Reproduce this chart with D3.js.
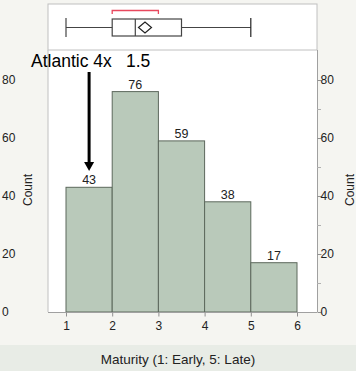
<!DOCTYPE html>
<html><head><meta charset="utf-8">
<script src="https://cdn.jsdelivr.net/npm/d3@7"></script>
<style>body{margin:0;background:#f5f5f1;}svg{display:block;font-family:Arial,"Liberation Sans",sans-serif;}</style>
</head><body><svg id="c" width="356" height="371"></svg>
<script>
const binStarts = [1, 2, 3, 4, 5];
const counts = [43, 76, 59, 38, 17];
const yTicks = [0, 20, 40, 60, 80];
const xTicks = [1, 2, 3, 4, 5, 6];
const boxStats = {min: 1, q1: 2, median: 2.5, mean: 2.71, q3: 3.5, max: 5, shortLo: 2, shortHi: 3};
const annotationLabel = "Atlantic 4x";
const annotationValue = 1.5;
const xLabel = "Maturity (1: Early, 5: Late)";
const yLabel = "Count";

const svg = d3.select("#c");
const L = 48, R = 317, T = 4, boxB = 50, B = 312;
const x = d3.scaleLinear().domain([1, 6]).range([66, 297]);
const y = d3.scaleLinear().domain([0, 80]).range([B, 80]);

svg.append("rect").attr("x", 0).attr("y", 345).attr("width", 356).attr("height", 26).attr("fill", "#e8ece6");
svg.append("rect").attr("x", L).attr("y", T).attr("width", R - L).attr("height", B - T).attr("fill", "#fff");
svg.append("rect").attr("x", L).attr("y", T).attr("width", R - L).attr("height", boxB - T).attr("fill", "none").attr("stroke", "#c0c0c0");
svg.append("line").attr("x1", L).attr("x2", L).attr("y1", boxB).attr("y2", B).attr("stroke", "#c0c0c0");

// bars
svg.selectAll("rect.bar").data(counts).join("rect").attr("class", "bar")
  .attr("x", (d, i) => x(binStarts[i])).attr("width", (d, i) => x(binStarts[i] + 1) - x(binStarts[i]))
  .attr("y", d => y(d)).attr("height", d => B - y(d))
  .attr("fill", "#b9c9ba").attr("stroke", "#5c685c").attr("stroke-width", 1);
svg.selectAll("text.val").data(counts).join("text").attr("class", "val")
  .attr("x", (d, i) => x(binStarts[i] + 0.5)).attr("y", d => y(d) - 3)
  .attr("text-anchor", "middle").attr("font-size", 12.5).attr("fill", "#222").text(d => d);

// x axis
svg.append("line").attr("x1", L).attr("x2", R).attr("y1", B + 0.5).attr("y2", B + 0.5).attr("stroke", "#a0a0a0");
const xa = svg.append("g").attr("transform", `translate(0,${B + 0.5})`)
  .call(d3.axisBottom(x).tickValues(xTicks).tickSize(4).tickFormat(d3.format("d")));
xa.select(".domain").remove();
xa.selectAll("line").attr("stroke", "#909090");
xa.selectAll("text").attr("font-size", 12).attr("fill", "#222").attr("dy", "0.85em");

// right axis
const ya = svg.append("g").attr("transform", `translate(${R + 0.5},0)`)
  .call(d3.axisRight(y).tickValues(yTicks).tickSize(4).tickFormat(d3.format("d")));
ya.select(".domain").attr("stroke", "#a0a0a0").attr("d", `M0,${boxB}V${B}`);
ya.selectAll("line").attr("stroke", "#909090");
ya.selectAll("text").attr("font-size", 12).attr("fill", "#222").attr("x", 3);
svg.append("g").selectAll("line").data([10, 30, 50, 70]).join("line")
  .attr("x1", R).attr("x2", R + 4).attr("y1", d => Math.round(y(d)) + 0.5).attr("y2", d => Math.round(y(d)) + 0.5).attr("stroke", "#b0b0b0");

// left labels
svg.selectAll("text.ly").data(yTicks).join("text").attr("class", "ly")
  .attr("x", 2).attr("y", d => y(d)).attr("dy", "0.35em").attr("font-size", 12).attr("fill", "#222").text(d => d);
svg.append("text").attr("transform", `translate(32,190) rotate(-90)`).attr("text-anchor", "middle")
  .attr("font-size", 12).attr("fill", "#222").text(yLabel);
svg.append("text").attr("transform", `translate(354,190) rotate(-90)`).attr("text-anchor", "middle")
  .attr("font-size", 12).attr("fill", "#222").text(yLabel);

svg.append("text").attr("x", 178).attr("y", 364).attr("text-anchor", "middle").attr("font-size", 13.5).attr("fill", "#222").text(xLabel);

// box plot
const by = 27.5, bh = 17;
const g = svg.append("g").attr("stroke", "#444").attr("fill", "none").attr("stroke-width", 1.2);
g.append("line").attr("x1", x(boxStats.min)).attr("x2", x(boxStats.q1)).attr("y1", by).attr("y2", by);
g.append("line").attr("x1", x(boxStats.q3)).attr("x2", x(boxStats.max)).attr("y1", by).attr("y2", by);
g.append("line").attr("x1", x(boxStats.min)).attr("x2", x(boxStats.min)).attr("y1", by - 9.5).attr("y2", by + 9.5);
g.append("line").attr("x1", x(boxStats.max)).attr("x2", x(boxStats.max)).attr("y1", by - 9.5).attr("y2", by + 9.5).attr("stroke", "#222");
g.append("rect").attr("x", x(boxStats.q1)).attr("y", by - bh / 2).attr("width", x(boxStats.q3) - x(boxStats.q1)).attr("height", bh);
g.append("line").attr("x1", x(boxStats.median)).attr("x2", x(boxStats.median)).attr("y1", by - bh / 2).attr("y2", by + bh / 2);
const mx = x(boxStats.mean);
g.append("path").attr("d", `M${mx - 6.5},${by}L${mx},${by - 5.5}L${mx + 6.5},${by}L${mx},${by + 5.5}Z`).attr("fill", "#fff").attr("stroke", "#222");
svg.append("path").attr("d", `M${x(boxStats.shortLo)},${14}V${10.5}H${x(boxStats.shortHi)}V${14}`).attr("fill", "none").attr("stroke", "#e8485e").attr("stroke-width", 1.3);

// annotation
const ax = x(annotationValue);
const at = svg.append("text").attr("y", 67).attr("font-size", 17.5).attr("fill", "#000");
at.append("tspan").attr("x", 31).text(annotationLabel);
at.append("tspan").attr("x", 126).text(annotationValue);
svg.append("line").attr("x1", ax).attr("x2", ax).attr("y1", 72).attr("y2", 164).attr("stroke", "#000").attr("stroke-width", 3);
svg.append("path").attr("d", `M${ax - 5},${162}L${ax + 5},${162}L${ax},${171}Z`).attr("fill", "#000");
</script></body></html>
